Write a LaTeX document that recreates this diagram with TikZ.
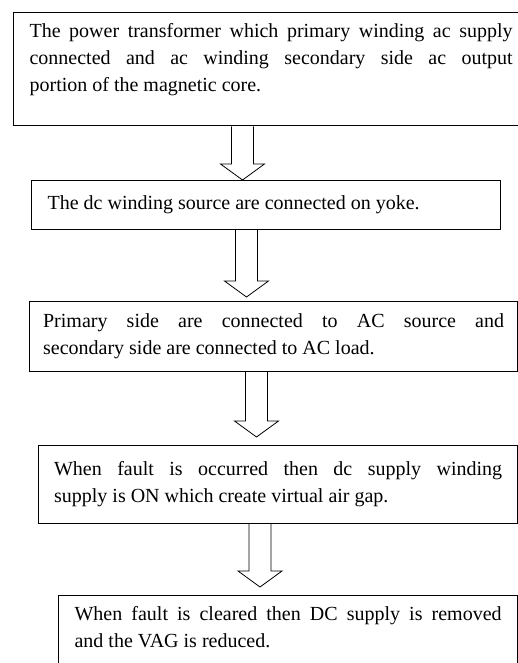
\documentclass[tikz,border=0pt]{standalone}
\usepackage{fontspec}
\setmainfont{Liberation Serif}
\usetikzlibrary{calc}

\tikzset{
  stepbox/.style={draw, line width=1.2pt, anchor=north west, align=justify,
    inner xsep=16pt, inner ysep=11pt, font=\fontsize{20}{27}\selectfont},
  % hollow block arrow from the start point down to the target point
  hollow/.style={draw, line width=0.8pt, to path={
    let \p1=(\tikztostart), \p2=(\tikztotarget) in
    (\x1-11pt,\y1) -- (\x1-11pt,\y2+16pt) -- (\x1-22pt,\y2+16pt) -- (\x1,\y2)
    -- (\x1+22pt,\y2+16pt) -- (\x1+11pt,\y2+16pt) -- (\x1+11pt,\y1)}}
}

\begin{document}
\begin{tikzpicture}[x=1pt, y=1pt]
  \useasboundingbox (0,0) rectangle (518,-663);

  % Steps
  \node[stepbox, text width=483pt, text depth=77pt] (s1) at (13,-12)
    {The power transformer which primary winding ac supply\linebreak
     connected and ac winding secondary side ac output\linebreak
     portion of the magnetic core.};
  \node[stepbox, text width=437pt, minimum height=49pt] (s2) at (31,-180)
    {The dc winding source are connected on yoke.};
  \node[stepbox, inner xsep=13.5pt, text width=461pt, minimum height=70pt] (s3) at (29,-301)
    {Primary side are connected to AC source and\linebreak
     secondary side are connected to AC load.};
  \node[stepbox, inner xsep=15.5pt, text width=448pt, minimum height=78pt] (s4) at (38,-445)
    {When fault is occurred then dc supply winding\linebreak
     supply is ON which create virtual air gap.};
  \node[stepbox, text width=427pt, text depth=60pt] (s5) at (58,-595)
    {When fault is cleared then DC supply is removed\linebreak
     and the VAG is reduced.};

  % Arrow positions
  \coordinate (a1) at (242.5,0);
  \coordinate (a2) at (246.5,0);
  \coordinate (a3) at (256.5,0);
  \coordinate (a4) at (260,0);

  % Arrows
  \draw[hollow] (s1.south -| a1) to (s2.north -| a1);
  \draw[hollow] (s2.south -| a2) to ($(s3.north -| a2)+(0,4)$);
  \draw[hollow] (s3.south -| a3) to ($(s4.north -| a3)+(0,8)$);
  \draw[hollow] (s4.south -| a4) to ($(s5.north -| a4)+(0,8)$);
\end{tikzpicture}
\end{document}
